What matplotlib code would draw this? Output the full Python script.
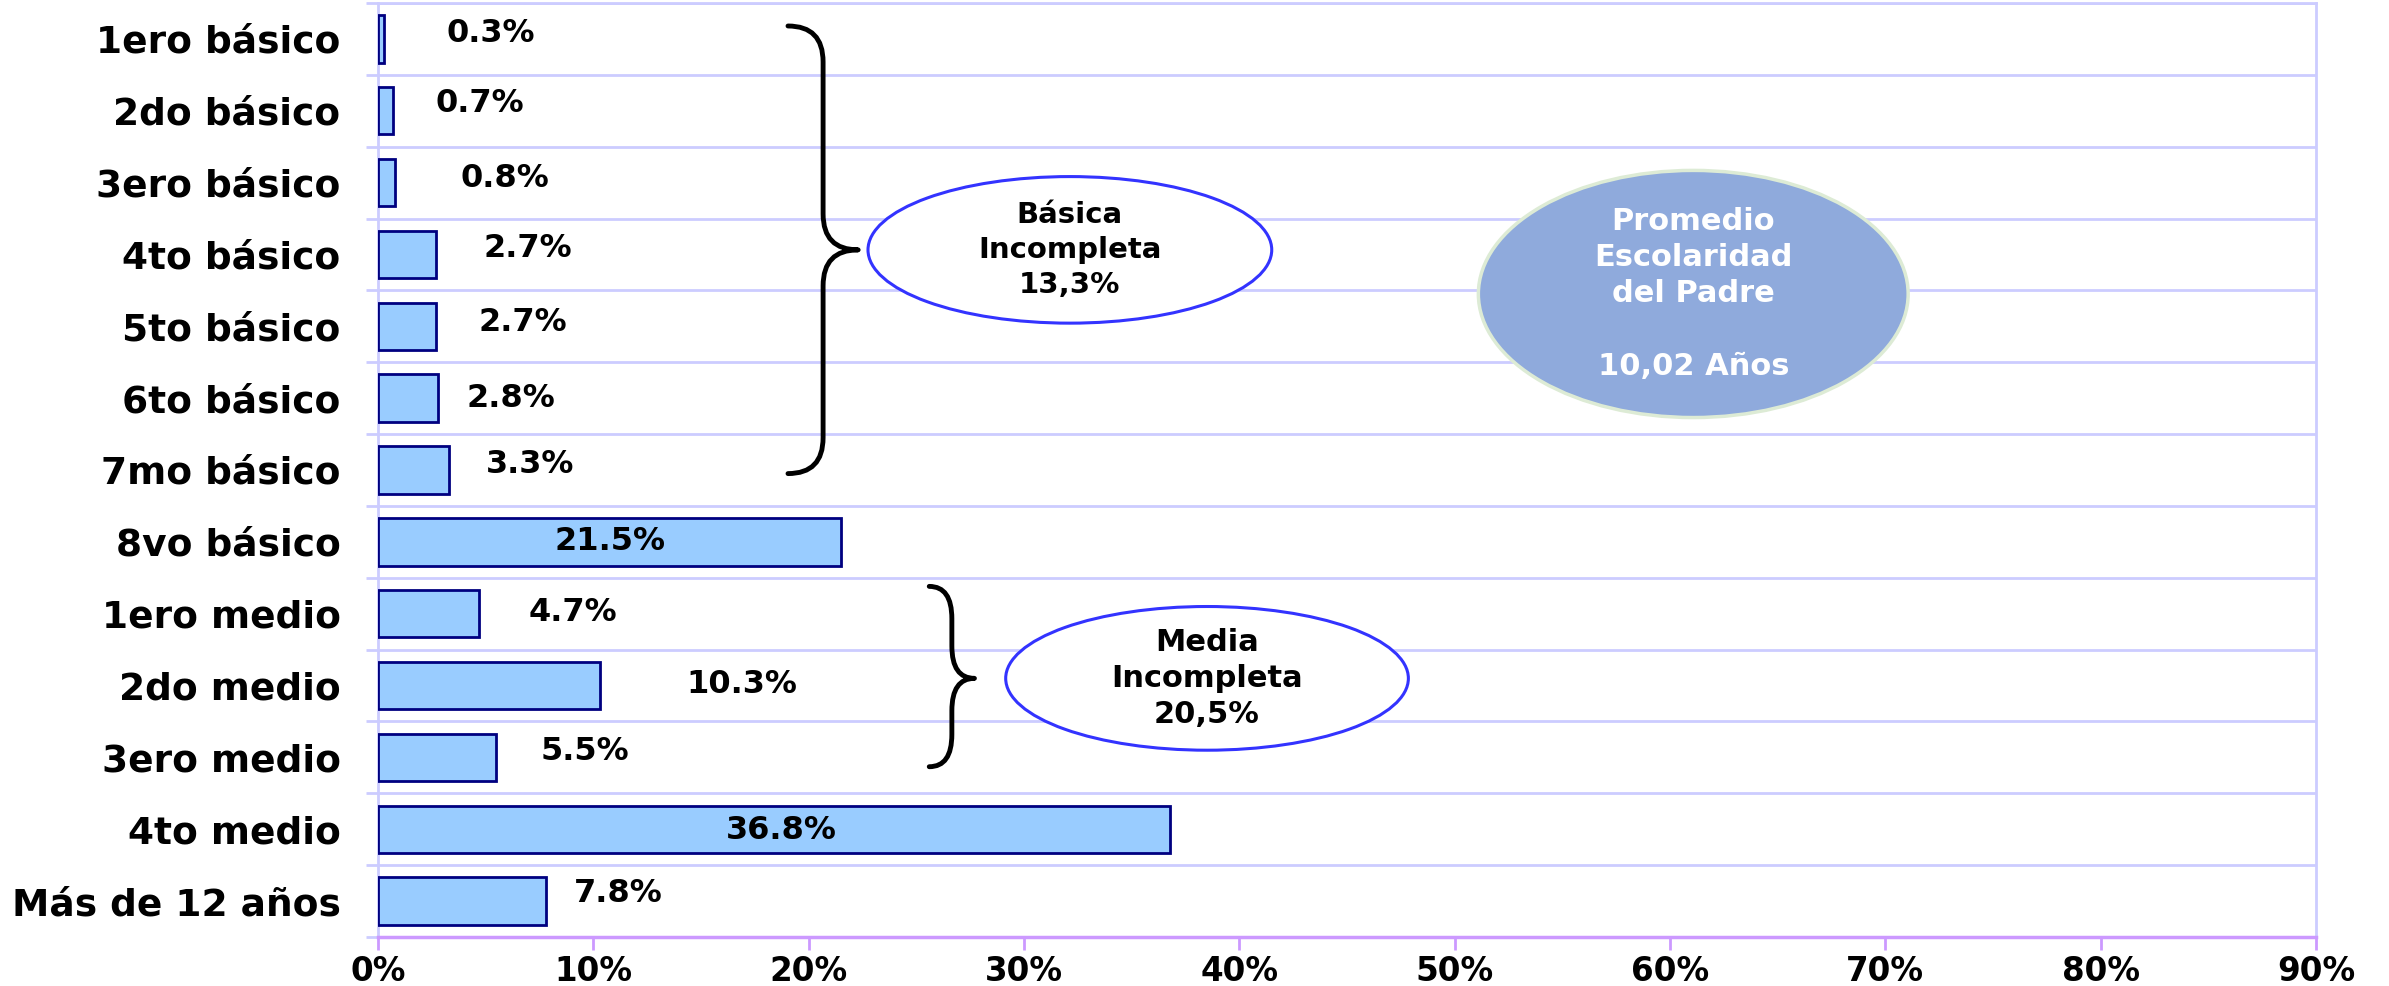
import matplotlib
matplotlib.use("Agg")
import matplotlib.pyplot as plt
from matplotlib.patches import Ellipse, PathPatch
from matplotlib.path import Path
import numpy as np

plt.rcParams['font.family'] = ['DejaVu Sans']

categories = ["1ero básico", "2do básico", "3ero básico", "4to básico", "5to básico",
              "6to básico", "7mo básico", "8vo básico", "1ero medio", "2do medio",
              "3ero medio", "4to medio", "Más de 12 años"]
values = [0.3, 0.7, 0.8, 2.7, 2.7, 2.8, 3.3, 21.5, 4.7, 10.3, 5.5, 36.8, 7.8]
value_labels = ["0.3%", "0.7%", "0.8%", "2.7%", "2.7%", "2.8%", "3.3%", "21.5%",
                "4.7%", "10.3%", "5.5%", "36.8%", "7.8%"]
xticks = [0, 10, 20, 30, 40, 50, 60, 70, 80, 90]
xtick_labels = ["0%", "10%", "20%", "30%", "40%", "50%", "60%", "70%", "80%", "90%"]

group1_text = "Básica\nIncompleta\n13,3%"
group2_text = "Media\nIncompleta\n20,5%"
summary_text = "Promedio\nEscolaridad\ndel Padre\n\n10,02 Años"

# layout: label anchor x positions (data units) and small vertical nudges
label_x = [5.24, 4.74, 5.87, 6.94, 6.72, 6.16, 7.08, 10.76, 9.06, 16.9, 9.62, 18.75, 11.18]
label_dy = [-0.08, -0.1, -0.06, -0.08, -0.05, 0.0, -0.07, 0.0, -0.02, -0.02, -0.08, 0.02, -0.1]

W, H = 2389, 986
fig = plt.figure(figsize=(W / 100, H / 100), dpi=100)
ax = fig.add_axes([378 / W, 1 - 937 / H, (2316 - 378) / W, (937 - 3) / H])

y = np.arange(len(categories))
ax.barh(y, values, height=0.66, color="#99CCFF", edgecolor="#000080", linewidth=2, zorder=3)

for i, (lx, lab) in enumerate(zip(label_x, value_labels)):
    ax.text(lx, y[i] + label_dy[i], lab, ha="center", va="center",
            fontsize=23, fontweight="bold", color="black", zorder=4)

ax.set_xlim(0, 90)
ax.set_ylim(len(categories) - 0.5, -0.5)
ax.set_xticks(xticks)
ax.set_xticklabels(xtick_labels, fontsize=23.5, fontweight="bold")
ax.set_yticks(y)
ax.set_yticklabels(categories, fontsize=27, fontweight="bold")
ax.set_yticks(np.arange(-0.5, len(categories), 1.0), minor=True)
ax.tick_params(axis="y", which="major", length=0, pad=27)
ax.tick_params(axis="y", which="minor", length=9, color="#CCCCFF", width=2)
ax.tick_params(axis="x", which="major", length=9, color="#CC99FF", width=2, pad=4)
ax.grid(axis="y", which="minor", color="#CCCCFF", linewidth=2, zorder=0)

for s in ["left", "right", "top"]:
    ax.spines[s].set_color("#CCCCFF")
    ax.spines[s].set_linewidth(2)
ax.spines["bottom"].set_color("#CC99FF")
ax.spines["bottom"].set_linewidth(2.5)


def right_brace(ax, x0, x1, ytop, ybot, ytip, r):
    xm = (x0 + x1) / 2
    verts = [
        (x0, ytop), (xm, ytop), (xm, ytop + r),
        (xm, ytip - r),
        (xm, ytip), (x1, ytip),
        (xm, ytip), (xm, ytip + r),
        (xm, ybot - r),
        (xm, ybot), (x0, ybot),
    ]
    codes = [Path.MOVETO, Path.CURVE3, Path.CURVE3,
             Path.LINETO,
             Path.CURVE3, Path.CURVE3,
             Path.CURVE3, Path.CURVE3,
             Path.LINETO,
             Path.CURVE3, Path.CURVE3]
    p = PathPatch(Path(verts, codes), fill=False, edgecolor="black", linewidth=3.5,
                  capstyle="round", joinstyle="round", zorder=5)
    ax.add_patch(p)


right_brace(ax, 19.04, 22.3, -0.18, 6.05, 2.936, 0.5)
right_brace(ax, 25.6, 27.7, 7.62, 10.13, 8.9, 0.45)

e1 = Ellipse((32.13, 2.936), 18.75, 2.04, facecolor="white", edgecolor="#3333FF",
             linewidth=2.2, zorder=5)
ax.add_patch(e1)
ax.text(32.13, 2.936, group1_text, ha="center", va="center", fontsize=21,
        fontweight="bold", linespacing=1.33, zorder=6)

e2 = Ellipse((38.5, 8.9), 18.7, 2.0, facecolor="white", edgecolor="#3333FF",
             linewidth=2.2, zorder=5)
ax.add_patch(e2)
ax.text(38.5, 8.9, group2_text, ha="center", va="center", fontsize=22,
        fontweight="bold", linespacing=1.3, zorder=6)

e3 = Ellipse((61.08, 3.55), 19.96, 3.44, facecolor="#8FAADC", edgecolor="#DDEBD5",
             linewidth=2.5, zorder=5)
ax.add_patch(e3)
ax.text(61.08, 3.55, summary_text, ha="center", va="center", fontsize=22,
        fontweight="bold", color="white", linespacing=1.32, zorder=6)

fig.savefig("out.png", dpi=100)
